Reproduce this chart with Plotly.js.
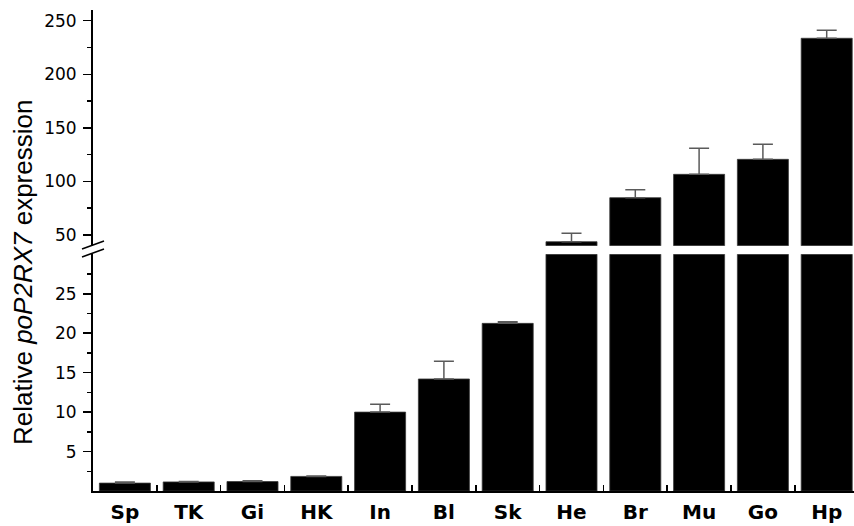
<!DOCTYPE html>
<html>
<head>
<meta charset="utf-8">
<script src="https://cdn.plot.ly/plotly-3.0.1.min.js"></script>
<style>
  html, body { margin: 0; padding: 0; background: #fff; }
  #chart { width: 854px; height: 526px; }
</style>
</head>
<body>
<div id="chart"></div>
<script>
// Tissues
const tissues = ['Sp', 'TK', 'Gi', 'HK', 'In', 'Bl', 'Sk', 'He', 'Br', 'Mu', 'Go', 'Hp'];
// Mean relative expression
const expression = [1.0, 1.15, 1.2, 1.85, 10.0, 14.2, 21.25, 43.7, 84.8, 106.6, 120.6, 233.6];
// Upper error (SD)
const errorUp = [0.15, 0.05, 0.1, 0.05, 1.0, 2.25, 0.2, 7.9, 7.5, 24.3, 14.0, 7.4];

// Broken axis: lower segment 0-30, upper segment 40-260
const lowerRange = [0, 30];
const upperRange = [40, 260];
const lowerTicks = [5, 10, 15, 20, 25];
const lowerMinor = [2.5, 7.5, 12.5, 17.5, 22.5, 27.5];
const upperTicks = [50, 100, 150, 200, 250];
const upperMinor = [75, 125, 175, 225];

const W = 854, H = 526;
const M = { l: 93, r: 0, t: 10, b: 35 };
const plotW = W - M.l - M.r, plotH = H - M.t - M.b;
const lowerDomain = [0, 0.492];
const upperDomain = [0.510, 1];

function barTrace(yaxis) {
  return {
    type: 'bar',
    x: tissues,
    y: expression,
    yaxis: yaxis,
    width: 0.8,
    marker: { color: '#000000', line: { color: '#3a3a3a', width: 0.8 } },
    error_y: {
      type: 'data', symmetric: false, array: errorUp,
      arrayminus: errorUp.map(() => 0),
      color: '#5a5a5a', thickness: 1.5, width: 10
    },
    hoverinfo: 'x+y',
    showlegend: false
  };
}

// pixel -> paper helpers for the axis-break marks
const px = x => (x - M.l) / plotW;
const py = y => (H - M.b - y) / plotH;
const breakLine = (x0, y0, x1, y1) => ({
  type: 'line', xref: 'paper', yref: 'paper',
  x0: px(x0), y0: py(y0), x1: px(x1), y1: py(y1),
  line: { color: '#000', width: 1.6 }
});

const yBase = {
  showline: true, linecolor: '#000', linewidth: 2,
  ticks: 'outside', ticklen: 8, tickwidth: 1.5, tickcolor: '#000',
  showgrid: false, zeroline: false, fixedrange: true,
  tickmode: 'array',
  tickfont: { family: 'DejaVu Sans', size: 17, color: '#000' },
  ticklabelstandoff: 3,
  anchor: 'x'
};

const layout = {
  width: W, height: H,
  margin: M,
  paper_bgcolor: '#fff', plot_bgcolor: '#fff',
  barmode: 'overlay',
  bargap: 0.2,
  xaxis: {
    type: 'category',
    range: [-0.5, -0.5 + plotW / 63.8],
    showline: true, linecolor: '#000', linewidth: 2,
    ticks: 'inside', tickson: 'boundaries', ticklen: 6, tickwidth: 1.5, tickcolor: '#000',
    tickfont: { family: 'DejaVu Sans', size: 20, color: '#000', weight: 'bold' },
    ticklabelstandoff: 2,
    showgrid: false, zeroline: false, fixedrange: true,
    anchor: 'y'
  },
  yaxis: Object.assign({}, yBase, {
    domain: lowerDomain, range: lowerRange, tickvals: lowerTicks,
    minor: { tickmode: 'array', tickvals: lowerMinor, ticks: 'outside', ticklen: 4, tickwidth: 1.5, tickcolor: '#000' }
  }),
  yaxis2: Object.assign({}, yBase, {
    domain: upperDomain, range: upperRange, tickvals: upperTicks,
    minor: { tickmode: 'array', tickvals: upperMinor, ticks: 'outside', ticklen: 4, tickwidth: 1.5, tickcolor: '#000' }
  }),
  shapes: [
    breakLine(82, 249, 104, 241),
    breakLine(82, 257, 104, 249)
  ],
  annotations: [{
    text: 'Relative <i>poP2RX7</i> expression',
    xref: 'paper', yref: 'paper',
    x: px(23), y: py(273),
    xanchor: 'center', yanchor: 'middle',
    textangle: -90, showarrow: false,
    font: { family: 'Liberation Sans', size: 26, color: '#000' }
  }]
};

Plotly.newPlot('chart', [barTrace('y'), barTrace('y2')], layout, { staticPlot: true, displayModeBar: false });
</script>
</body>
</html>
